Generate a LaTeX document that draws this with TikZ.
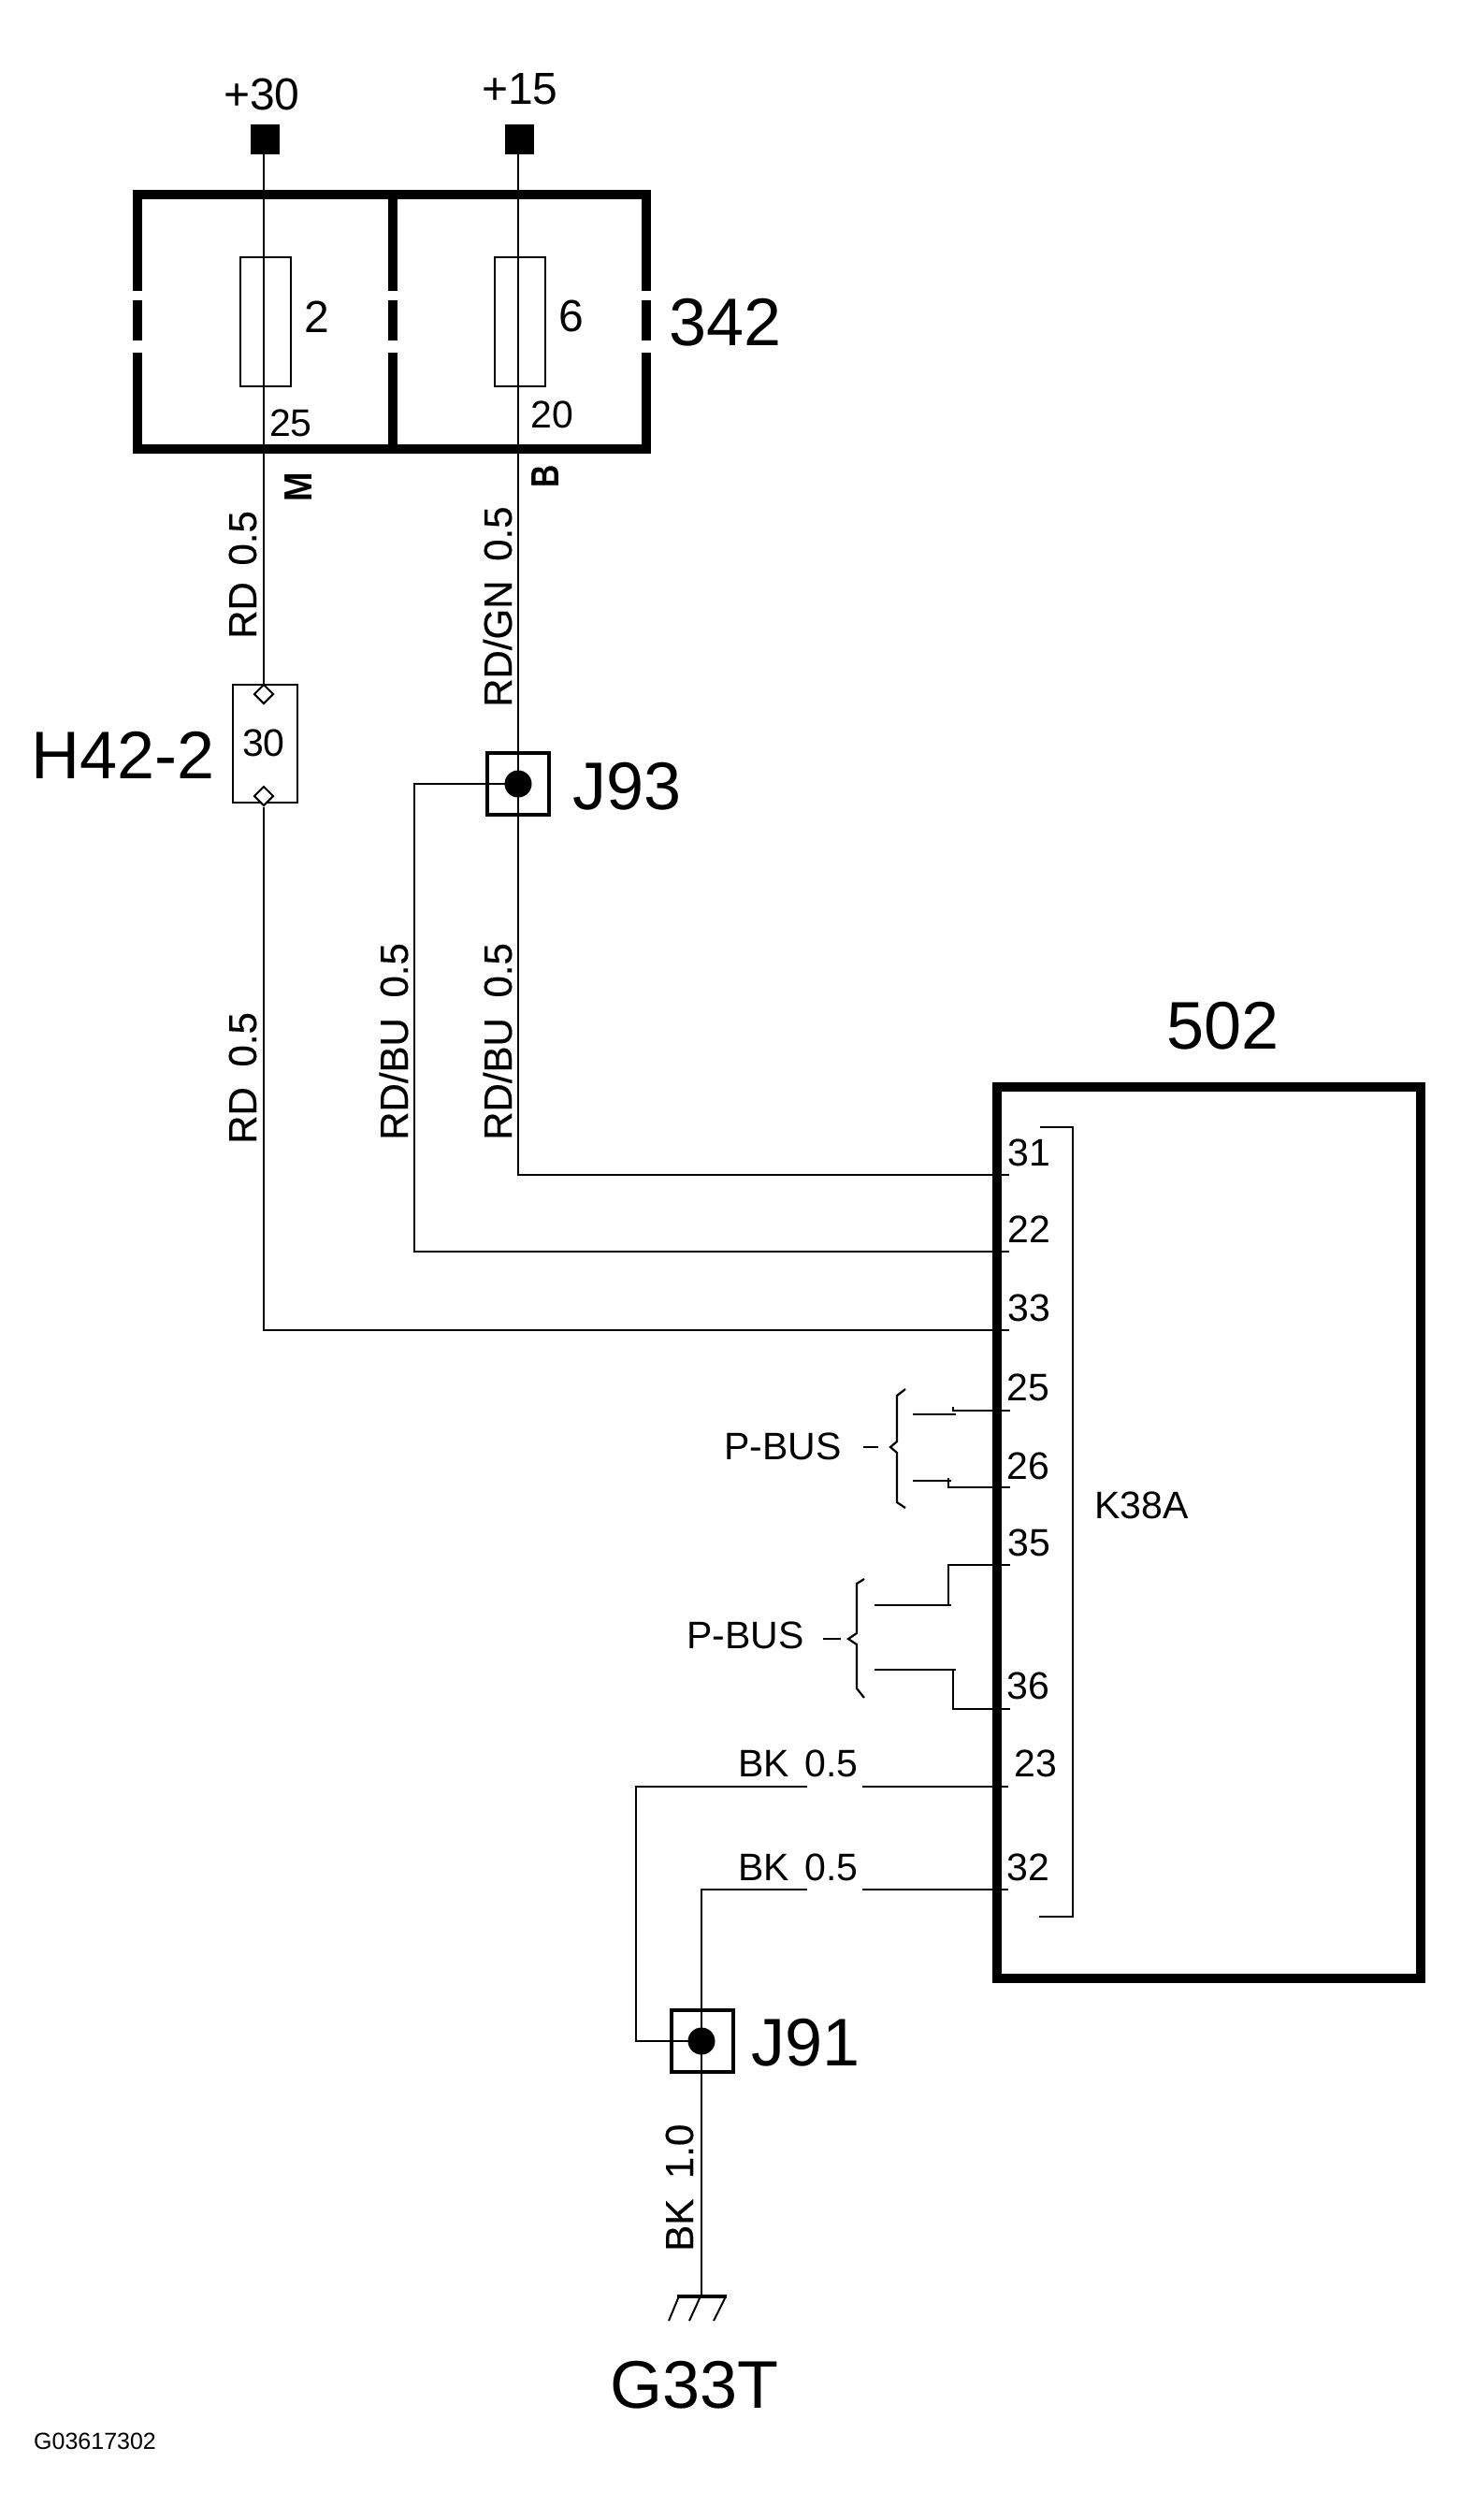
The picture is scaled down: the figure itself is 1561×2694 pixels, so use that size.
\documentclass[tikz,border=0pt]{standalone}
\usepackage{fontspec}
\setmainfont{Liberation Sans}
\newfontfamily\heavyfont[FakeBold=0.4]{Liberation Sans}
\newfontfamily\boldM[FakeStretch=0.9]{Liberation Sans Bold}
\newfontfamily\boldB[FakeStretch=0.8]{Liberation Sans Bold}
\usetikzlibrary{shapes.geometric}
\tikzset{
  thick line/.style={line width=10pt,line cap=butt},
  wire/.style={line width=2.2pt,line cap=butt,line join=miter},
  fuse/.style={draw,line width=2pt,minimum width=54pt,minimum height=138pt,inner sep=0pt},
  term/.style={fill=black,draw=none,minimum width=31pt,minimum height=32pt,inner sep=0pt},
  splice/.style={draw,line width=4.5pt,minimum width=66pt,minimum height=66pt,inner sep=0pt},
  dot/.style={circle,fill=black,draw=none,minimum size=29pt,inner sep=0pt},
  pinhead/.style={diamond,draw,line width=2pt,fill=white,minimum size=21pt,inner sep=0pt},
  lbl/.style={inner sep=0pt,anchor=base west},
  big/.style={lbl,font=\fontsize{72}{80}\selectfont},
  mid/.style={lbl,font=\fontsize{48}{54}\selectfont},
  small/.style={lbl,font=\fontsize{41}{48}\selectfont},
  vlab/.style={lbl,rotate=90,font=\heavyfont\fontsize{42}{48}\selectfont},
  vboldM/.style={lbl,rotate=90,font=\boldM\fontsize{42}{48}\selectfont},
  vboldB/.style={lbl,rotate=90,font=\boldB\fontsize{42}{48}\selectfont},
}
\begin{document}
\begin{tikzpicture}[x=1pt,y=-1pt]
\useasboundingbox (0,0) rectangle (1561,2694);
\fill[white] (0,0) rectangle (1561,2694);

% fuse box 342
\draw[thick line] (142,208) -- (696,208);
\draw[thick line] (142,480) -- (696,480);
\foreach \xx in {147,420,691}{
  \draw[thick line] (\xx,208) -- (\xx,311);
  \draw[thick line] (\xx,321) -- (\xx,364);
  \draw[thick line] (\xx,377) -- (\xx,480);
}

% terminals
\node[term] (t30) at (283.5,149) {};
\node[term] (t15) at (555,149) {};
\node[mid] (l30) at (239,117) {+30};
\node[mid] (l15) at (515,111) {+15};

% fuses
\node[fuse] (f2) at (283.5,344) {};
\node[fuse] (f6) at (555.5,344) {};
\node[mid] (lf2) at (325,355) {2};
\node[mid] (lf6) at (597,354) {6};
\node[small] (l25) at (288,466) {25};
\node[small] (l20) at (567,457) {20};
\node[big] (l342) at (715,369) {342};
\node[vboldM] (lM) at (333,537) {M};
\node[vboldB] (lB) at (597,522) {B};

% connector H42-2
\draw[line width=2.4pt] (249,732) rectangle (318,858);
\coordinate (hbox) at (249,732);
\node[pinhead] (d1) at (282,742) {};
\node[pinhead] (d2) at (282,851) {};
\node[small] (l3) at (259,808) {30};
\node[big] (lH) at (33,832) {H42-2};

% splices
\node[splice] (j93) at (554,838) {};
\node[dot] (dj93) at (554,838) {};
\node[big] (lj93) at (612,865) {J93};
\node[splice] (j91) at (751,2182) {};
\node[dot] (dj91) at (750,2182) {};
\node[big] (lj91) at (803,2208) {J91};

% module 502
\draw[thick line] (1061,1162) -- (1524,1162);
\draw[thick line] (1061,2115) -- (1524,2115);
\draw[thick line] (1066,1157) -- (1066,2120);
\draw[thick line] (1519,1157) -- (1519,2120);
\node[big] (l502) at (1247,1121) {502};
\draw[wire] (1112,1205) -- (1147,1205) -- (1147,2049) -- (1111,2049);
\node[small] (lk) at (1170,1623) {K38A};

% pins
\coordinate (p31) at (1079,1256);
\coordinate (p22) at (1079,1338);
\coordinate (p33) at (1079,1422);
\coordinate (p25) at (1080,1508);
\coordinate (p26) at (1080,1590);
\coordinate (p35) at (1080,1673);
\coordinate (p36) at (1080,1827);
\coordinate (p23) at (1078,1910);
\coordinate (p32) at (1078,2020);
\node[small] at (1077,1246) (n31) {31};
\node[small] at (1077,1328) (n22) {22};
\node[small] at (1077,1412) (n33) {33};
\node[small] at (1076,1497) (n25) {25};
\node[small] at (1076,1581) (n26) {26};
\node[small] at (1077,1663) (n35) {35};
\node[small] at (1076,1816) (n36) {36};
\node[small] at (1084,1899) (n23) {23};
\node[small] at (1076,2010) (n32) {32};

% wires
\draw[wire] (t30.south -| 282,0) -- (d1.north);
\draw[wire] (d2.south) -- (282,1422) -- (p33);
\draw[wire] (t15.south -| 554,0) -- (dj93.center);
\draw[wire] (dj93.center) -- (554,1256) -- (p31);
\draw[wire] (dj93.center) -- (443,838) -- (443,1338) -- (p22);

% wire labels
\node[vlab] (w1) at (274,683) {RD\hspace{6pt} 0.5};
\node[vlab] (w2) at (547,756) {RD/GN\hspace{9pt} 0.5};
\node[vlab] (w3) at (274,1223) {RD\hspace{10pt} 0.5};
\node[vlab] (w4) at (436,1219) {RD/BU\hspace{10pt} 0.5};
\node[vlab] (w5) at (547,1219) {RD/BU\hspace{10pt} 0.5};
\node[vlab] (w6) at (741,2407) {BK\hspace{10pt} 1.0};

% P-BUS upper
\draw[wire] (p25) -- (1019,1508) -- (1019,1504);
\draw[wire] (976,1512) -- (1022,1512);
\draw[wire] (p26) -- (1014,1590) -- (1014,1580);
\draw[wire] (976,1583) -- (1017,1583);
\node[small] (pb1) at (774,1560) {P-BUS};
\draw[wire] (923,1547) -- (939,1547);
\draw[wire] (968,1485) -- (959,1492) -- (959,1541) -- (952,1547) -- (959,1553) -- (959,1606) -- (968,1612);

% P-BUS lower
\draw[wire] (p35) -- (1014,1673) -- (1014,1716);
\draw[wire] (935,1716) -- (1017,1716);
\draw[wire] (p36) -- (1019,1827) -- (1019,1785);
\draw[wire] (935,1785) -- (1022,1785);
\node[small] (pb2) at (734,1762) {P-BUS};
\draw[wire] (880,1752) -- (899,1752);
\draw[wire] (924,1688) -- (916,1693) -- (916,1746) -- (907,1752) -- (916,1758) -- (916,1805) -- (924,1815);

% BK wires
\draw[wire] (p23) -- (922,1910);
\draw[wire] (863,1910) -- (680,1910) -- (680,2182) -- (dj91.center);
\draw[wire] (p32) -- (922,2020);
\draw[wire] (863,2020) -- (750,2020) -- (dj91.center);
\node[small] (bk1) at (789,1899) {BK\hspace{5pt} 0.5};
\node[small] (bk2) at (789,2010) {BK\hspace{5pt} 0.5};

% ground
\coordinate (gnd) at (750,2455);
\draw[wire] (dj91.center) -- (gnd);
\draw[line width=4.5pt] (724,2455) -- (777,2455);
\draw[line width=2pt] (725,2457) -- (715,2481);
\draw[line width=2pt] (748,2457) -- (737,2481);
\draw[line width=2pt] (775,2457) -- (763,2481);
\node[big] (lg) at (652,2574) {G33T};
\node[lbl,font=\fontsize{25}{30}\selectfont] (code) at (36,2618) {G03617302};
\end{tikzpicture}
\end{document}
